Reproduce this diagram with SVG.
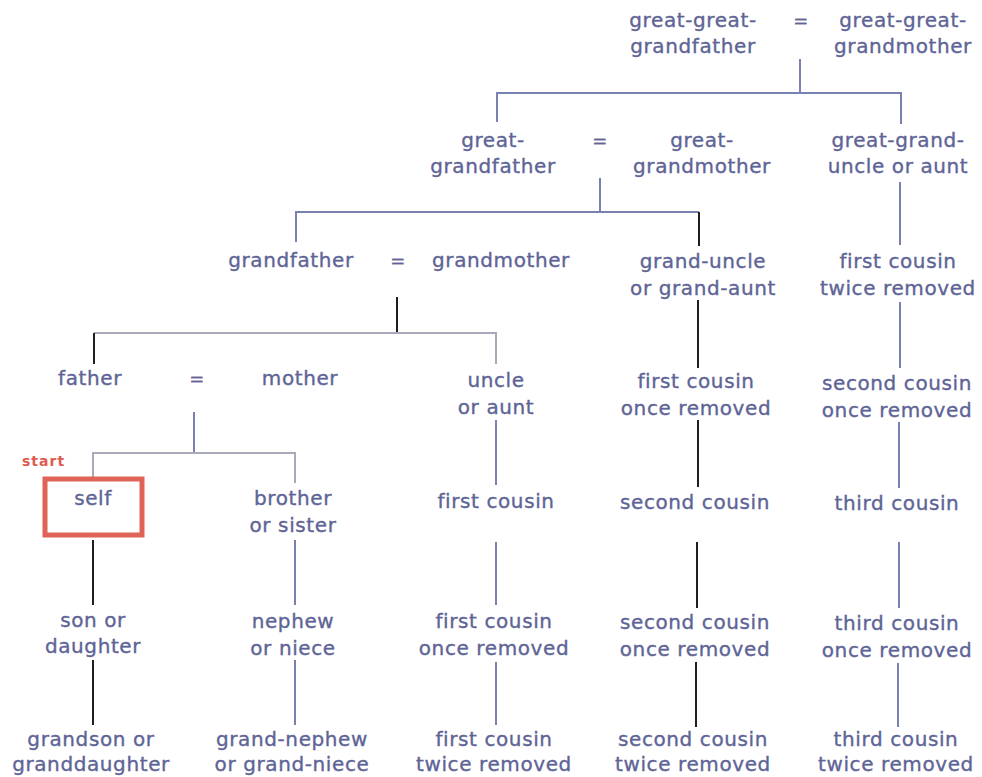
<svg xmlns="http://www.w3.org/2000/svg" width="982" height="777" viewBox="0 0 982 777">
<style>
text{font-family:"DejaVu Sans","Verdana",sans-serif;font-size:20px;letter-spacing:0.6px;fill:#5e6496;stroke:#5e6496;stroke-width:0.35px;text-anchor:middle}
.eq{font-size:18px}
.c line,.c polyline{fill:none;stroke-width:2}
.b{stroke:#7a80b0}
.g{stroke:#a8aab8}
.k{stroke:#1e1e24}
.start{font-size:14px;font-weight:bold;letter-spacing:1px;fill:#e05a50;stroke:none;text-anchor:start}
</style>
<rect width="982" height="777" fill="#fff"/>
<g class="c" id="connectors">
<line class="b" x1="800" y1="59" x2="800" y2="93"/>
<polyline class="b" points="497,122 497,93 901,93 901,124"/>
<line class="b" x1="600" y1="178" x2="600" y2="212"/>
<polyline class="b" points="296,242 296,212 699,212"/>
<line class="k" x1="699" y1="212" x2="699" y2="246"/>
<line class="b" x1="900" y1="182" x2="900" y2="245"/>
<line class="k" x1="397" y1="297" x2="397" y2="333"/>
<polyline class="g" points="94,333 496,333 496,364"/>
<line class="k" x1="94" y1="333" x2="94" y2="364"/>
<line class="b" x1="194" y1="412" x2="194" y2="453"/>
<polyline class="g" points="93,477 93,453 295,453 295,483"/>
<line class="k" x1="93" y1="540" x2="93" y2="605"/>
<line class="k" x1="93" y1="660" x2="93" y2="725"/>
<line class="b" x1="295" y1="540" x2="295" y2="605"/>
<line class="b" x1="295" y1="660" x2="295" y2="725"/>
<line class="b" x1="496" y1="420" x2="496" y2="485"/>
<line class="b" x1="496" y1="542" x2="496" y2="605"/>
<line class="b" x1="496" y1="662" x2="496" y2="725"/>
<line class="k" x1="698" y1="300" x2="698" y2="368"/>
<line class="k" x1="698" y1="420" x2="698" y2="487"/>
<line class="k" x1="697" y1="542" x2="697" y2="608"/>
<line class="k" x1="696" y1="662" x2="696" y2="727"/>
<line class="b" x1="900" y1="302" x2="900" y2="368"/>
<line class="b" x1="899" y1="422" x2="899" y2="488"/>
<line class="b" x1="899" y1="542" x2="899" y2="608"/>
<line class="b" x1="898" y1="663" x2="898" y2="727"/>
</g>
<g id="gg-grandfather"><text x="693" y="27">great-great-</text><text x="693" y="53">grandfather</text></g>
<g id="eq0"><text class="eq" x="801" y="27">=</text></g>
<g id="gg-grandmother"><text x="903" y="27">great-great-</text><text x="903" y="53">grandmother</text></g>
<g id="g-grandfather"><text x="493" y="147">great-</text><text x="493" y="173">grandfather</text></g>
<g id="eq1"><text class="eq" x="600" y="147">=</text></g>
<g id="g-grandmother"><text x="702" y="147">great-</text><text x="702" y="173">grandmother</text></g>
<g id="gg-uncle"><text x="898" y="147">great-grand-</text><text x="898" y="173">uncle or aunt</text></g>
<g id="grandfather"><text x="291" y="267">grandfather</text></g>
<g id="eq2"><text class="eq" x="398" y="267">=</text></g>
<g id="grandmother"><text x="501" y="267">grandmother</text></g>
<g id="grand-uncle"><text x="703" y="268">grand-uncle</text><text x="703" y="295">or grand-aunt</text></g>
<g id="fc2r-top"><text x="898" y="268">first cousin</text><text x="898" y="295">twice removed</text></g>
<g id="father"><text x="90" y="385">father</text></g>
<g id="eq3"><text class="eq" x="197" y="385">=</text></g>
<g id="mother"><text x="300" y="385">mother</text></g>
<g id="uncle"><text x="496" y="387">uncle</text><text x="496" y="414">or aunt</text></g>
<g id="fc1r-top"><text x="696" y="388">first cousin</text><text x="696" y="415">once removed</text></g>
<g id="sc1r-top"><text x="897" y="390">second cousin</text><text x="897" y="417">once removed</text></g>
<g id="self"><text class="start" x="22" y="466">start</text><rect x="45" y="479" width="97" height="56" fill="none" stroke="#e06358" stroke-width="5"/><text x="93" y="505">self</text></g>
<g id="sibling"><text x="293" y="505">brother</text><text x="293" y="532">or sister</text></g>
<g id="first-cousin"><text x="496" y="508">first cousin</text></g>
<g id="second-cousin"><text x="695" y="509">second cousin</text></g>
<g id="third-cousin"><text x="897" y="510">third cousin</text></g>
<g id="child"><text x="93" y="627">son or</text><text x="93" y="653">daughter</text></g>
<g id="nephew"><text x="293" y="628">nephew</text><text x="293" y="655">or niece</text></g>
<g id="fc1r"><text x="494" y="628">first cousin</text><text x="494" y="655">once removed</text></g>
<g id="sc1r"><text x="695" y="629">second cousin</text><text x="695" y="656">once removed</text></g>
<g id="tc1r"><text x="897" y="630">third cousin</text><text x="897" y="657">once removed</text></g>
<g id="grandchild"><text x="91" y="746">grandson or</text><text x="91" y="771">granddaughter</text></g>
<g id="grand-nephew"><text x="292" y="746">grand-nephew</text><text x="292" y="771">or grand-niece</text></g>
<g id="fc2r"><text x="494" y="746">first cousin</text><text x="494" y="771">twice removed</text></g>
<g id="sc2r"><text x="693" y="746">second cousin</text><text x="693" y="771">twice removed</text></g>
<g id="tc2r"><text x="896" y="746">third cousin</text><text x="896" y="771">twice removed</text></g>
</svg>
